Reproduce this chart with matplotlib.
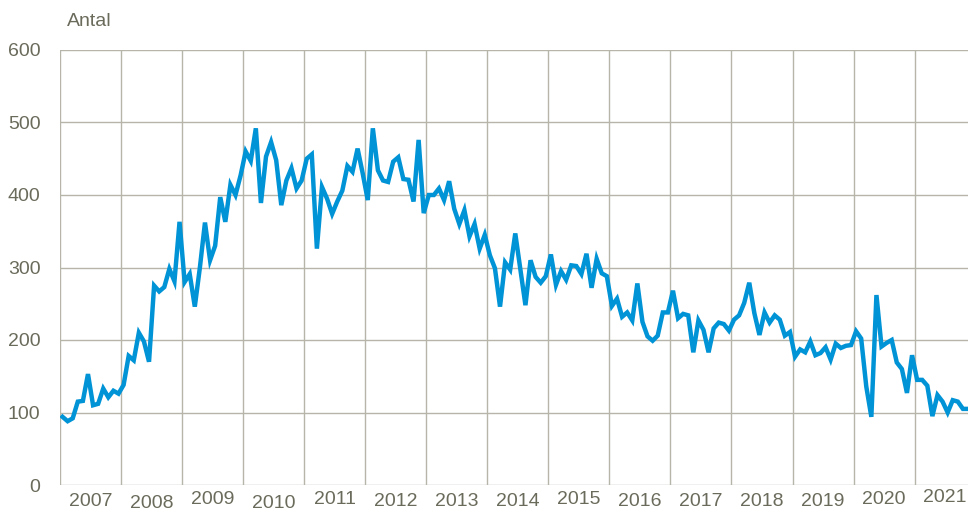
import matplotlib
matplotlib.use("Agg")
import matplotlib.pyplot as plt
import matplotlib.transforms as mtransforms
import numpy as np

# monthly counts, Jan 2007 - Nov 2021
years = list(range(2007, 2022))
v2007 = [94, 88, 92, 115, 116, 153, 110, 112, 133, 121, 130, 126]
v2008 = [138, 178, 172, 210, 198, 170, 275, 267, 273, 298, 281, 363]
v2009 = [280, 291, 246, 300, 362, 310, 330, 397, 363, 414, 400, 427]
v2010 = [460, 447, 492, 389, 453, 473, 448, 386, 420, 437, 409, 420]
v2011 = [450, 456, 326, 411, 395, 374, 391, 406, 440, 432, 464, 430]
v2012 = [393, 492, 434, 420, 418, 446, 452, 422, 421, 391, 476, 375]
v2013 = [400, 400, 409, 393, 419, 381, 360, 379, 343, 360, 326, 345]
v2014 = [317, 299, 246, 307, 297, 347, 297, 248, 310, 287, 279, 288]
v2015 = [318, 276, 295, 283, 303, 302, 291, 319, 272, 312, 292, 288]
v2016 = [247, 257, 232, 238, 227, 278, 225, 205, 199, 206, 238, 238]
v2017 = [268, 230, 236, 234, 183, 227, 214, 183, 216, 224, 222, 213]
v2018 = [228, 234, 251, 279, 237, 207, 238, 224, 234, 228, 206, 211]
v2019 = [177, 187, 183, 198, 179, 182, 190, 173, 195, 189, 192, 193]
v2020 = [212, 202, 136, 94, 262, 191, 196, 200, 169, 160, 127, 179]
v2021 = [145, 145, 137, 95, 124, 115, 100, 117, 115, 105, 105]

values = (v2007 + v2008 + v2009 + v2010 + v2011 + v2012 + v2013 + v2014
          + v2015 + v2016 + v2017 + v2018 + v2019 + v2020 + v2021)
yticks = [0, 100, 200, 300, 400, 500, 600]

# small vertical jitter of the year labels (px, + is down), as in the original
label_dy = [1, 2, -1, 2, -1, 0, 1, 1, -2, 1, 0, 1, 1, -2, -4]

LINE = "#0093d6"
GRID = "#b7b5a9"
TEXT = "#6b6b5c"
FONT = ["Liberation Sans", "DejaVu Sans"]

fig = plt.figure(figsize=(9.68, 5.12), dpi=100)
ax = fig.add_axes([60 / 968, 27 / 512, 908 / 968, 435 / 512])

x = np.arange(len(values)) + 0.5
ax.plot(x, values, color=LINE, lw=3.2, solid_joinstyle="miter")

ax.set_xlim(0, len(values) - 0.5)
ax.set_ylim(0, 600)

# grid lines
for yt in yticks:
    ax.axhline(yt, color=GRID, lw=1.0, zorder=0)
for i in range(len(years)):
    ax.axvline(i * 12, color=GRID, lw=1.0, zorder=0)

for s in ax.spines.values():
    s.set_visible(False)

ax.set_xticks([])
ax.set_yticks(yticks)
ax.set_yticklabels([str(t) for t in yticks], family=FONT, fontsize=14, color=TEXT)
ax.tick_params(axis="y", length=0, pad=14)

trans = mtransforms.blended_transform_factory(ax.transData, fig.transFigure)
for i, yr in enumerate(years):
    ypx = 501 + label_dy[i]
    ax.text(i * 12 + 6, 1 - ypx / 512, str(yr), transform=trans,
            ha="center", va="center", family=FONT, fontsize=14, color=TEXT,
            clip_on=False)

fig.text(67 / 968, 1 - 22 / 512, "Antal", ha="left", va="center",
         family=FONT, fontsize=14, color=TEXT)

fig.savefig("out.png", dpi=100)
